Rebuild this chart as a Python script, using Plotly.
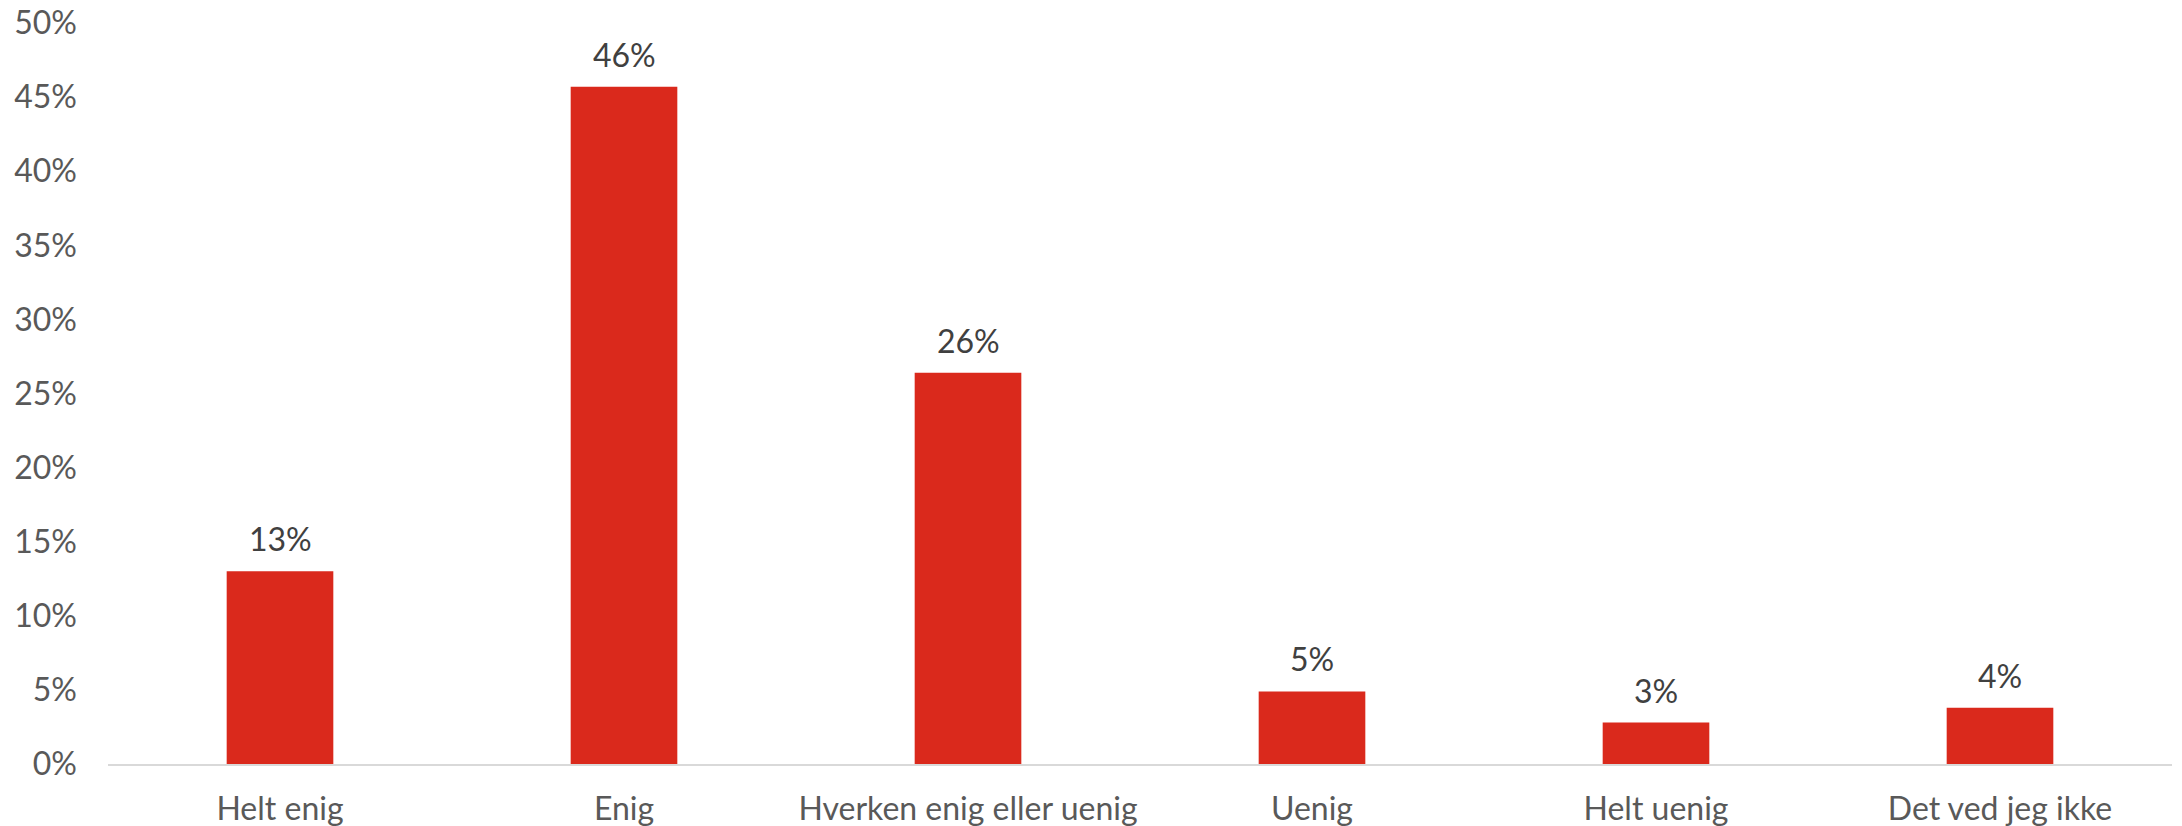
import plotly.graph_objects as go

categories = ["Helt enig", "Enig", "Hverken enig eller uenig", "Uenig", "Helt uenig", "Det ved jeg ikke"]
values = [0.130, 0.457, 0.264, 0.049, 0.028, 0.038]
y_ticks = [0, 0.05, 0.10, 0.15, 0.20, 0.25, 0.30, 0.35, 0.40, 0.45, 0.50]
y_tick_labels = ["0%", "5%", "10%", "15%", "20%", "25%", "30%", "35%", "40%", "45%", "50%"]

BAR = "#DA291C"
FONT = "Lato, Carlito, 'Open Sans', sans-serif"
FS = 32

fig = go.Figure()
fig.add_trace(go.Bar(
    x=categories,
    y=values,
    marker=dict(color=BAR, line=dict(width=0)),
    hoverinfo="skip",
))

for c, v in zip(categories, values):
    fig.add_annotation(
        x=c, y=v, text=f"{round(v*100)}%",
        showarrow=False, yanchor="bottom", yshift=11,
        font=dict(family=FONT, size=FS, color="#404040"),
    )

fig.update_layout(
    template="none",
    width=2182, height=826,
    margin=dict(l=108, r=10, t=23, b=62, pad=0),
    paper_bgcolor="white", plot_bgcolor="white",
    bargap=0.69,
    showlegend=False,
    font=dict(family=FONT, size=FS, color="#595959"),
)
fig.update_yaxes(
    automargin=False,
    range=[0, 0.5], tickvals=y_ticks, ticktext=y_tick_labels,
    showgrid=False, zeroline=False, showline=False,
    ticks="", ticklabelstandoff=30,
    tickfont=dict(family=FONT, size=FS, color="#595959"),
)
fig.update_xaxes(
    automargin=False,
    showline=True, linecolor="#D9D9D9", linewidth=2,
    showgrid=False, ticks="", ticklabelstandoff=16,
    tickfont=dict(family=FONT, size=FS, color="#595959"),
)

fig.write_html(
    "out.html",
    config={"displayModeBar": False},
    post_script="document.body.style.margin='0';document.body.style.overflow='hidden';",
)
